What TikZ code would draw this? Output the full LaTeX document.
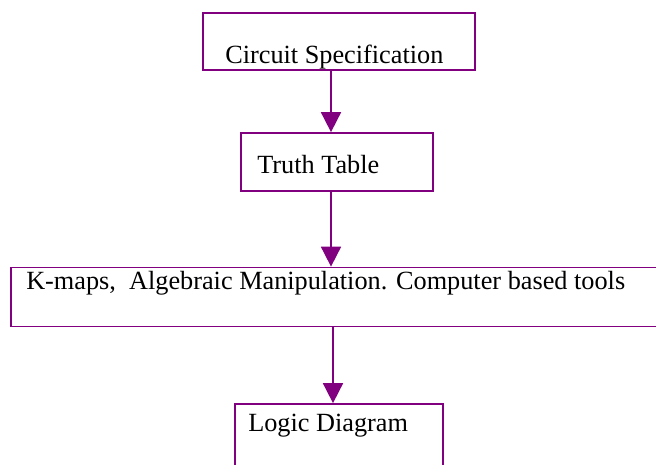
\documentclass[tikz,border=0pt]{standalone}
\usepackage{fontspec}
\setmainfont{Liberation Serif}
\usetikzlibrary{arrows.meta,fit}
\definecolor{boxpurple}{RGB}{128,0,128}
\begin{document}
\begin{tikzpicture}[x=0.75pt,y=-0.75pt,
  box/.style={draw=boxpurple, line width=1.3pt, inner sep=0pt, fill=none},
  lbl/.style={inner sep=0pt, anchor=base west, font=\fontsize{19.7pt}{23pt}\selectfont, text=black},
  arr/.style={draw=boxpurple, line width=1.3pt, -{Triangle[length=15pt,width=15pt]}}]
\useasboundingbox (0,0) rectangle (656,464);
\clip (0,0) rectangle (656,464);
\fill[white] (0,0) rectangle (656,464);
\node[box, fit={(203,13) (475,70)}] (b1) {};
\node[box, fit={(241,133) (433,191)}] (b2) {};
\node[box, fit={(11,267.5) (700,326.5)}] (b3) {};
\node[box, fit={(235,404) (443,500)}] (b4) {};
\node[lbl] (t1) at (225,63) {Circuit Specification};
\node[lbl] (t2) at (257,173) {Truth Table};
\node[lbl] (t3) at (26,289) {K-maps,\ \ Algebraic Manipulation. Computer based tools};
\node[lbl] (t4) at (248,431) {Logic Diagram};
\coordinate (x1) at (331,0);
\coordinate (x3) at (333,0);
\draw[arr] (b1.south -| x1) -- (b2.north -| x1);
\draw[arr] (b2.south -| x1) -- (b3.north -| x1);
\draw[arr] (b3.south -| x3) -- (b4.north -| x3);
\end{tikzpicture}
\end{document}
